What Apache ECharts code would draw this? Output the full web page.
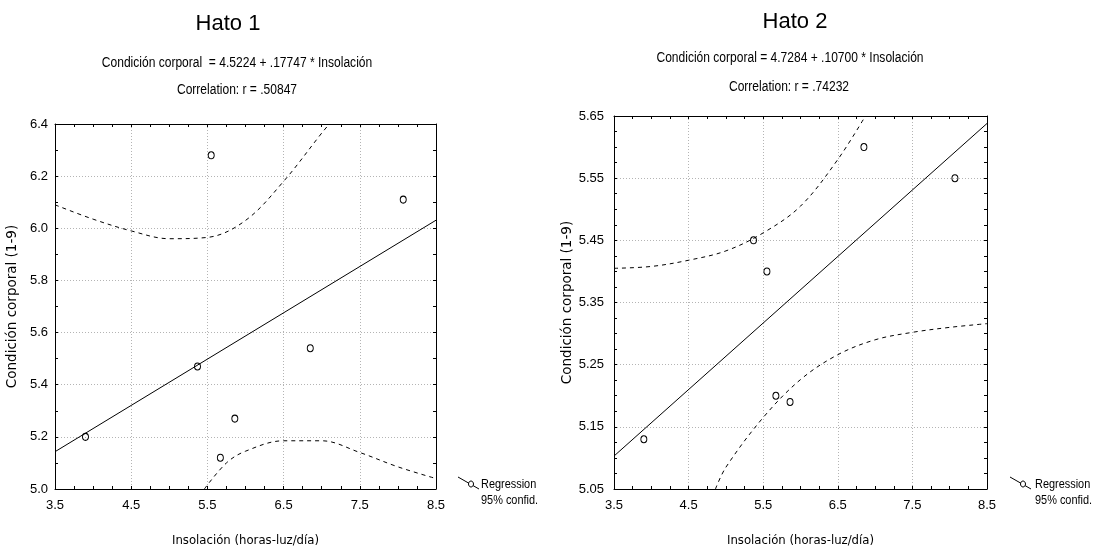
<!DOCTYPE html>
<html>
<head>
<meta charset="utf-8">
<script src="https://cdn.jsdelivr.net/npm/echarts@6/dist/echarts.min.js"></script>
<style>
html,body{margin:0;padding:0;background:#fff;}
#c{width:1101px;height:552px;}
</style>
</head>
<body>
<div id="c"></div>
<script>
// ---- data ----
var insolacion = [3.9, 5.37, 5.55, 5.67, 5.86, 6.85, 8.07];
var hato1CC = [5.20, 5.47, 6.28, 5.12, 5.27, 5.54, 6.11];
var hato2CC = [5.13, 5.45, 5.40, 5.20, 5.19, 5.60, 5.55];

var regX = [3.5, 8.5];
var hato1Reg = [5.143, 6.031];
var hato2Reg = [5.103, 5.638];

var hato1UpperX = [3.5, 4.0, 4.5, 5.0, 5.5, 6.0, 6.5, 7.0, 7.1];
var hato1UpperY = [6.09, 6.035, 5.99, 5.96, 5.965, 6.03, 6.18, 6.365, 6.40];
var hato1LowerX = [5.46, 5.75, 6.0, 6.5, 7.0, 7.5, 8.0, 8.5];
var hato1LowerY = [5.00, 5.10, 5.145, 5.185, 5.185, 5.14, 5.085, 5.04];

var hato2UpperX = [3.5, 4.0, 4.5, 5.0, 5.5, 6.0, 6.5, 6.87];
var hato2UpperY = [5.405, 5.408, 5.418, 5.433, 5.462, 5.505, 5.58, 5.65];
var hato2LowerX = [4.86, 5.0, 5.5, 6.0, 6.5, 7.0, 7.5, 8.0, 8.5];
var hato2LowerY = [5.05, 5.085, 5.165, 5.226, 5.266, 5.29, 5.302, 5.31, 5.316];

var titles = ['Hato 1', 'Hato 2'];
var equations = ['Condición corporal  = 4.5224 + .17747 * Insolación', 'Condición corporal = 4.7284 + .10700 * Insolación'];
var correlations = ['Correlation: r = .50847', 'Correlation: r = .74232'];
var xName = 'Insolación (horas-luz/día)';
var yName = 'Condición corporal (1-9)';
var legendNames = ['Regression', '95% confid.'];

// ---- chart ----
var NARROW = '"Liberation Sans Narrow", "Arial Narrow", "DejaVu Sans Condensed", sans-serif';
var SANS = '"Liberation Sans", Arial, sans-serif';

function pairs(xs, ys) { return xs.map(function (x, i) { return [x, ys[i]]; }); }

var grids = [
  {left: 55, top: 124, width: 381, height: 368},
  {left: 614, top: 116, width: 373, height: 374}
];
var yCfg = [
  {min: 5.0, max: 6.4, interval: 0.2, dec: 1, minor: 2},
  {min: 5.05, max: 5.65, interval: 0.1, dec: 2, minor: 4}
];

var xAxes = [], yAxes = [], series = [];
grids.forEach(function (g, gi) {
  xAxes.push({
    gridIndex: gi, type: 'value', min: 3.5, max: 8.5, interval: 1, position: 'bottom',
    name: xName, nameLocation: 'middle', nameGap: 45,
    nameTextStyle: {fontFamily: NARROW, fontSize: 13, color: '#000'},
    axisLine: {show: true, onZero: false, lineStyle: {color: '#000', width: 1}},
    axisTick: {show: true, inside: true, length: 3, lineStyle: {color: '#000'}},
    minorTick: {show: true, splitNumber: 4, length: 3, lineStyle: {color: '#000'}},
    axisLabel: {color: '#000', fontFamily: SANS, fontSize: 13, margin: 10, formatter: function (v) { return v.toFixed(1); }},
    splitLine: {show: true, lineStyle: {color: '#b4b4b4', type: [1, 2], width: 1}}
  });
  xAxes.push({
    gridIndex: gi, type: 'value', min: 3.5, max: 8.5, interval: 1, position: 'top',
    axisLine: {show: true, onZero: false, lineStyle: {color: '#000', width: 1}},
    axisTick: {show: true, inside: true, length: 3, lineStyle: {color: '#000'}},
    minorTick: {show: true, splitNumber: 4, length: 3, lineStyle: {color: '#000'}},
    axisLabel: {show: false}, splitLine: {show: false}
  });
  var yc = yCfg[gi];
  yAxes.push({
    gridIndex: gi, type: 'value', min: yc.min, max: yc.max, interval: yc.interval, position: 'left',
    name: yName, nameLocation: 'middle', nameGap: gi === 0 ? 36 : 39, nameRotate: 90,
    nameTextStyle: {fontFamily: '"DejaVu Sans", sans-serif', fontSize: 13.5, color: '#000'},
    axisLine: {show: true, onZero: false, lineStyle: {color: '#000', width: 1}},
    axisTick: {show: true, inside: true, length: 3, lineStyle: {color: '#000'}},
    minorTick: {show: true, splitNumber: yc.minor, length: 3, lineStyle: {color: '#000'}},
    axisLabel: {color: '#000', fontFamily: SANS, fontSize: 13, margin: gi === 0 ? 7 : 10,
      formatter: (function (d) { return function (v) { return v.toFixed(d); }; })(yc.dec)},
    splitLine: {show: true, lineStyle: {color: '#b4b4b4', type: [1, 2], width: 1}}
  });
  yAxes.push({
    gridIndex: gi, type: 'value', min: yc.min, max: yc.max, interval: yc.interval, position: 'right',
    axisLine: {show: true, onZero: false, lineStyle: {color: '#000', width: 1}},
    axisTick: {show: true, inside: true, length: 3, lineStyle: {color: '#000'}},
    minorTick: {show: true, splitNumber: yc.minor, length: 3, lineStyle: {color: '#000'}},
    axisLabel: {show: false}, splitLine: {show: false}
  });

  var xi = gi * 2, yi = gi * 2;
  var cc = gi === 0 ? hato1CC : hato2CC;
  var reg = gi === 0 ? hato1Reg : hato2Reg;
  var ux = gi === 0 ? hato1UpperX : hato2UpperX, uy = gi === 0 ? hato1UpperY : hato2UpperY;
  var lx = gi === 0 ? hato1LowerX : hato2LowerX, ly = gi === 0 ? hato1LowerY : hato2LowerY;
  var dash = {color: '#000', width: 1, type: [4, 4]};
  series.push({
    name: legendNames[0], type: 'line', xAxisIndex: xi, yAxisIndex: yi, data: pairs(regX, reg),
    showSymbol: false, clip: true, lineStyle: {color: '#000', width: 1}, itemStyle: {color: '#000'}, z: 3
  });
  series.push({
    name: legendNames[1], type: 'line', xAxisIndex: xi, yAxisIndex: yi, data: pairs(ux, uy),
    showSymbol: false, clip: true, smooth: 0.35, lineStyle: dash, itemStyle: {color: '#000'}
  });
  series.push({
    name: legendNames[1], type: 'line', xAxisIndex: xi, yAxisIndex: yi, data: pairs(lx, ly),
    showSymbol: false, clip: true, smooth: 0.35, lineStyle: dash, itemStyle: {color: '#000'}
  });
  series.push({
    name: 'data', type: 'scatter', xAxisIndex: xi, yAxisIndex: yi, data: pairs(insolacion, cc),
    symbol: 'circle', symbolSize: [6, 7],
    itemStyle: {color: 'rgba(255,255,255,0)', borderColor: '#000', borderWidth: 1, opacity: 1}, z: 5
  });
});

var graphic = [];
var titleX = [228, 795], titleY = [24, 22];
var eqX = [237, 790], eqY = [63, 58];
var corX = [237, 789], corY = [90, 87];
var legIconX = [458, 1010], legTextX = [481, 1035];
for (var i = 0; i < 2; i++) {
  graphic.push({type: 'text', x: titleX[i], y: titleY[i], style: {text: titles[i], font: '22px ' + SANS, fill: '#000', align: 'center', verticalAlign: 'middle'}});
  graphic.push({type: 'text', x: eqX[i], y: eqY[i], scaleX: 0.86, style: {text: equations[i], font: '14px ' + SANS, fill: '#000', align: 'center', verticalAlign: 'middle'}});
  graphic.push({type: 'text', x: corX[i], y: corY[i], scaleX: 0.86, style: {text: correlations[i], font: '14px ' + SANS, fill: '#000', align: 'center', verticalAlign: 'middle'}});
  graphic.push({type: 'line', shape: {x1: legIconX[i], y1: 477, x2: legIconX[i] + 21, y2: 489}, style: {stroke: '#000', lineWidth: 1}});
  graphic.push({type: 'ellipse', shape: {cx: legIconX[i] + 13, cy: 484, rx: 2.5, ry: 3}, style: {stroke: '#000', fill: '#fff', lineWidth: 1}});
  graphic.push({type: 'text', x: legTextX[i], y: 484, scaleX: 0.84, style: {text: legendNames[0], font: '13px ' + SANS, fill: '#000', align: 'left', verticalAlign: 'middle'}});
  graphic.push({type: 'text', x: legTextX[i], y: 500, scaleX: 0.84, style: {text: legendNames[1], font: '13px ' + SANS, fill: '#000', align: 'left', verticalAlign: 'middle'}});
}

var chart = echarts.init(document.getElementById('c'), null, {renderer: 'canvas'});
chart.setOption({
  animation: false,
  backgroundColor: '#fff',
  grid: grids,
  xAxis: xAxes,
  yAxis: yAxes,
  series: series,
  graphic: graphic
});
</script>
</body>
</html>
